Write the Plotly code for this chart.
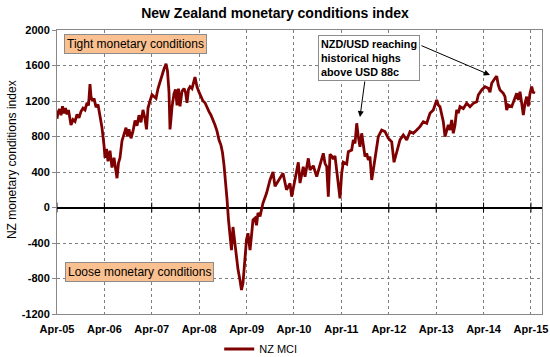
import pandas as pd
import plotly.graph_objects as go

# decimal years (2005.25 = Apr-05) and NZ MCI values
years = [
 2005.250,2005.271,2005.303,2005.334,2005.366,2005.398,2005.429,2005.461,2005.493,2005.524,
 2005.545,2005.588,2005.630,2005.672,2005.714,2005.756,2005.799,2005.841,2005.883,2005.915,
 2005.946,2005.967,2005.999,2006.031,2006.073,2006.115,2006.157,2006.199,2006.242,2006.263,
 2006.294,2006.326,2006.368,2006.410,2006.453,2006.495,2006.516,2006.547,2006.579,2006.621,
 2006.664,2006.706,2006.737,2006.769,2006.811,2006.853,2006.896,2006.938,2006.980,2007.022,
 2007.064,2007.107,2007.138,2007.170,2007.212,2007.254,2007.296,2007.339,2007.381,2007.423,
 2007.465,2007.507,2007.550,2007.581,2007.613,2007.634,2007.655,2007.676,2007.718,2007.750,
 2007.782,2007.813,2007.845,2007.887,2007.929,2007.961,2007.993,2008.024,2008.056,2008.098,
 2008.161,2008.204,2008.246,2008.288,2008.330,2008.372,2008.415,2008.457,2008.499,2008.541,
 2008.583,2008.626,2008.668,2008.710,2008.741,2008.773,2008.805,2008.836,2008.868,2008.900,
 2008.931,2008.963,2009.005,2009.037,2009.069,2009.111,2009.142,2009.174,2009.216,2009.248,
 2009.279,2009.322,2009.353,2009.385,2009.427,2009.459,2009.490,2009.533,2009.596,2009.670,
 2009.744,2009.807,2009.849,2009.912,2009.986,2010.018,2010.092,2010.166,2010.201,2010.271,
 2010.341,2010.377,2010.446,2010.482,2010.552,2010.588,2010.657,2010.729,2010.799,2010.868,
 2010.904,2010.940,2010.974,2011.009,2011.045,2011.079,2011.115,2011.151,2011.184,2011.220,
 2011.256,2011.290,2011.362,2011.396,2011.467,2011.501,2011.537,2011.573,2011.607,2011.642,
 2011.678,2011.712,2011.748,2011.784,2011.817,2011.853,2011.889,2011.923,2011.959,2011.994,
 2012.028,2012.100,2012.170,2012.239,2012.311,2012.360,2012.417,2012.486,2012.556,2012.628,
 2012.697,2012.767,2012.839,2012.908,2012.978,2013.050,2013.119,2013.189,2013.261,2013.294,
 2013.330,2013.366,2013.400,2013.436,2013.471,2013.505,2013.541,2013.577,2013.611,2013.647,
 2013.682,2013.716,2013.752,2013.822,2013.893,2013.963,2014.033,2014.104,2014.138,2014.210,
 2014.279,2014.349,2014.385,2014.421,2014.490,2014.526,2014.560,2014.596,2014.666,2014.701,
 2014.737,2014.771,2014.843,2014.912,2014.948,2014.982,2015.018,2015.054,2015.088,2015.123,
 2015.159,2015.193,2015.229,2015.265,2015.299,2015.320,
]
mci = [
 1000,1070,1110,1040,1140,1060,1120,1050,1100,980,
 930,990,970,1050,1010,1080,1120,1100,1180,1150,
 1390,1250,1200,1230,1130,1160,1050,900,700,560,
 660,520,640,450,560,360,330,500,560,750,
 820,900,800,880,780,860,980,920,1040,960,
 1100,1000,880,1120,1200,1270,1250,1230,1340,1420,
 1480,1560,1620,1540,1300,880,1000,1130,1280,1330,
 1150,1340,1140,1310,1340,1300,1180,1330,1360,1340,
 1470,1360,1300,1250,1200,1180,1120,1080,1040,990,
 930,860,760,700,620,480,320,100,-140,-360,
 -480,-220,-400,-590,-700,-820,-930,-850,-620,-360,
 -290,-480,-320,-140,-120,-200,-60,-100,50,160,
 310,400,240,290,345,385,200,270,122,300,
 510,275,460,347,554,423,470,347,470,611,
 498,460,122,600,580,545,580,423,235,103,
 385,510,490,629,648,761,723,949,798,685,
 836,723,573,610,535,573,310,423,573,685,
 798,873,855,780,740,510,629,761,817,761,
 855,836,873,911,967,949,1062,1099,1211,1155,
 1136,1042,967,798,870,930,873,986,836,930,
 1099,1062,1136,1115,1174,1136,1174,1192,1268,1324,
 1361,1343,1300,1400,1456,1480,1380,1324,1287,1249,
 1099,1155,1136,1249,1287,1211,1305,1174,1042,1174,
 1249,1140,1287,1361,1287,1310,
]
tick_years = [2005, 2006, 2007, 2008, 2009, 2010, 2011, 2012, 2013, 2014, 2015]
y_ticks = [-1200, -800, -400, 0, 400, 800, 1200, 1600, 2000]

def to_date(yr):
    return pd.Timestamp("2005-04-01") + pd.to_timedelta((yr - 2005.25) * 365.25, unit="D")

dates = [to_date(v) for v in years]
tick_dates = [pd.Timestamp(f"{y}-04-01") for y in tick_years]
tick_text = [f"<b>Apr-{str(y)[2:]}</b>" for y in tick_years]

FONT = "Arial, Liberation Sans, sans-serif"
RED = "#7f0000"
GRID = "#7f7f7f"

fig = go.Figure()
fig.add_trace(go.Scatter(x=dates, y=mci, mode="lines", name="NZ MCI",
                         line=dict(color=RED, width=2.8)))
# small tick marks on the zero axis line
fig.add_trace(go.Scatter(x=tick_dates, y=[0] * len(tick_dates), mode="markers",
                         showlegend=False, hoverinfo="skip",
                         marker=dict(symbol="line-ns", size=7,
                                     line=dict(color="black", width=1))))

fig.update_layout(
    width=550, height=357,
    margin=dict(l=57, r=8, t=30, b=43, autoexpand=False),
    paper_bgcolor="white", plot_bgcolor="white",
    font=dict(family=FONT, size=11, color="black"),
    title=dict(text="<b>New Zealand monetary conditions index</b>",
               x=0.5, xanchor="center", y=1 - 13 / 357, yanchor="middle",
               font=dict(size=14, family=FONT)),
    showlegend=True,
    legend=dict(orientation="h", x=0.42, xanchor="center",
                yref="container", y=1 - 349 / 357, yanchor="middle",
                font=dict(size=11), itemwidth=30, bgcolor="rgba(0,0,0,0)"),
)

fig.update_xaxes(
    type="date", automargin=False,
    range=[pd.Timestamp("2005-04-01"), to_date(2015.482)],
    tickvals=tick_dates, ticktext=tick_text,
    tickfont=dict(size=11, family=FONT), ticklabelstandoff=5,
    showgrid=True, gridcolor=GRID, griddash="dot", gridwidth=1,
    showline=True, linecolor="#888888", linewidth=1, mirror=True,
    ticks="", zeroline=False,
)
fig.update_yaxes(
    range=[-1200, 2000], tickvals=y_ticks, automargin=False,
    ticktext=[f"<b>{v}</b>" for v in y_ticks],
    tickfont=dict(size=11, family=FONT),
    showgrid=True, gridcolor=GRID, griddash="dot", gridwidth=1,
    showline=True, linecolor="#888888", linewidth=1, mirror=True,
    ticks="outside", ticklen=4, tickcolor="#888888",
    zeroline=True, zerolinecolor="black", zerolinewidth=1.6,
)

fig.add_annotation(xref="paper", yref="paper", x=-0.093, y=0.545,
                   xanchor="center", yanchor="middle",
                   text="NZ monetary conditions index", textangle=-90,
                   showarrow=False, font=dict(size=12, family=FONT))

fig.add_annotation(xref="paper", yref="paper", x=(135 - 57) / 485, y=(314 - 43.5) / 284,
                   xanchor="center", yanchor="middle",
                   text="Tight monetary conditions", showarrow=False,
                   bgcolor="#FAC090", bordercolor="#8c8c8c", borderwidth=1,
                   borderpad=2,
                   font=dict(size=12, family=FONT))
fig.add_annotation(xref="paper", yref="paper", x=(139.5 - 57) / 485, y=(314 - 272) / 284,
                   xanchor="center", yanchor="middle",
                   text="Loose monetary conditions", showarrow=False,
                   bgcolor="#FAC090", bordercolor="#8c8c8c", borderwidth=1,
                   borderpad=2,
                   font=dict(size=12, family=FONT))
fig.add_annotation(xref="paper", yref="paper", x=(369 - 57) / 485, y=(314 - 58) / 284,
                   xanchor="center", yanchor="middle",
                   text="<b>NZD/USD reaching<br>historical highs<br>above USD 88c</b>",
                   showarrow=False, align="left",
                   bgcolor="white", bordercolor="#8c8c8c", borderwidth=1,
                   borderpad=2,
                   font=dict(size=10.8, family=FONT))
# arrows
fig.add_annotation(x=to_date(2011.642), y=1020, xref="x", yref="y",
                   ax=5, ay=-37, text="", showarrow=True,
                   arrowhead=2, arrowsize=1.2, arrowwidth=1, arrowcolor="black")
fig.add_annotation(x=to_date(2014.385), y=1493, xref="x", yref="y",
                   ax=-70, ay=-30, text="", showarrow=True,
                   arrowhead=2, arrowsize=1.2, arrowwidth=1, arrowcolor="black")

fig.write_html("out.html", config={"displayModeBar": False},
               post_script="document.body.style.margin='0';document.body.style.overflow='hidden';")
